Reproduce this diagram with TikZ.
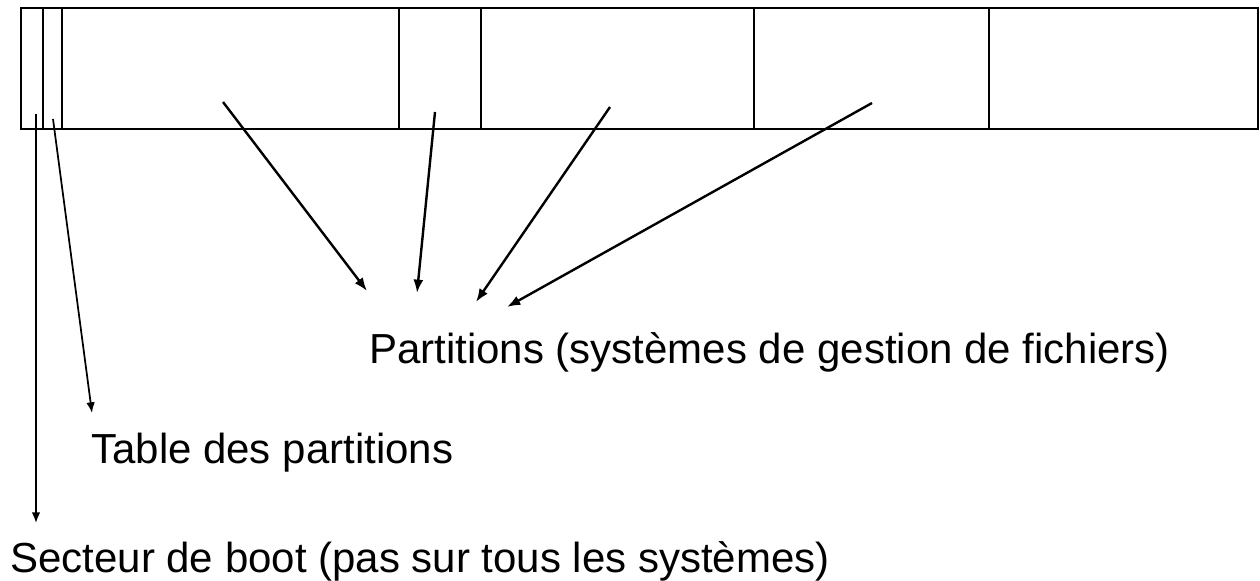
\documentclass[tikz,border=0pt]{standalone}
\usepackage{fontspec}
\setmainfont{Liberation Sans}
\usetikzlibrary{arrows.meta}

\begin{document}
\begin{tikzpicture}[x=0.75pt,y=-0.75pt,
        lbl/.style={anchor=base west,inner sep=0pt,font=\fontsize{31.5}{38}\selectfont},
        ptr/.style={-{Latex[length=10pt,width=7.5pt]},line width=1.8pt},
        thinptr/.style={-{Latex[length=8pt,width=6.5pt]},line width=1.3pt},
        cell/.style={line width=1.1pt}]
        \useasboundingbox (0,0) rectangle (1260,581);
        % le disque
        \draw[cell] (21,8) rectangle (1258,129);
        \foreach \x in {43,62,399,481,754,989}
        \draw[cell] (\x,8) -- (\x,129);
        % les textes
        \node[lbl] (part) at (369,363) {Partitions (systèmes de gestion de fichiers)};
        \node[lbl] (table) at (91,463) {Table des partitions};
        \node[lbl] (boot) at (10,572) {Secteur de boot (pas sur tous les systèmes)};
        % origines et pointes des fleches
        \coordinate (s1) at (36,114);   \coordinate (e1) at (36,523);
        \coordinate (s2) at (53,119);   \coordinate (e2) at (92,413);
        \coordinate (s3) at (223,102);  \coordinate (e3) at (367,291);
        \coordinate (s4) at (435,112);  \coordinate (e4) at (417,293);
        \coordinate (s5) at (610,107);  \coordinate (e5) at (476,302);
        \coordinate (s6) at (872,103);  \coordinate (e6) at (507,307);
        \foreach \i in {1,2}
        \draw[thinptr] (s\i) -- (e\i);
        \foreach \i in {3,...,6}
        \draw[ptr] (s\i) -- (e\i);
\end{tikzpicture}
\end{document}
